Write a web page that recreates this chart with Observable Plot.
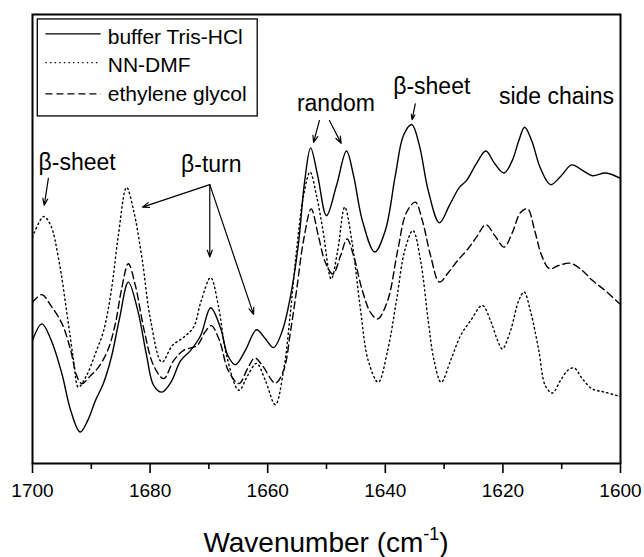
<!DOCTYPE html>
<html>
<head>
<meta charset="utf-8">
<script src="https://cdn.jsdelivr.net/npm/d3@7"></script>
<script src="https://cdn.jsdelivr.net/npm/@observablehq/plot@0.6"></script>
<style>
  html, body { margin: 0; padding: 0; background: #fff; }
  #chart { width: 644px; height: 557px; }
</style>
</head>
<body>
<div id="chart"></div>
<script>
// ---- data (wavenumber cm^-1, intensity in arbitrary units) ----
const seriesNames = ["buffer Tris-HCl", "NN-DMF", "ethylene glycol"];

const bufferTris = [
  [1700.0,27.4],[1698.4,31.1],[1696.8,27.4],[1695.0,20.0],[1693.5,11.8],[1691.9,7.0],
  [1690.6,9.6],[1689.3,14.0],[1687.9,18.0],[1686.6,23.6],[1685.2,32.3],[1683.7,40.4],
  [1682.1,34.1],[1680.6,24.1],[1679.4,17.4],[1678.0,15.9],[1676.5,18.0],[1674.8,22.9],
  [1673.1,25.2],[1671.4,28.5],[1669.7,34.7],[1668.0,30.1],[1666.8,24.1],[1665.5,22.0],
  [1663.8,25.2],[1661.9,29.8],[1660.4,27.8],[1659.0,25.8],[1657.5,29.6],[1656.1,37.4],
  [1654.8,48.6],[1653.7,63.0],[1652.7,70.3],[1651.5,64.1],[1650.0,55.2],[1648.3,61.9],
  [1646.6,69.6],[1645.4,64.1],[1643.9,54.1],[1641.8,47.1],[1640.0,51.9],[1638.3,64.1],
  [1636.9,73.1],[1635.5,75.5],[1634.2,70.8],[1632.7,60.8],[1630.8,53.6],[1629.1,57.5],
  [1627.4,61.5],[1626.2,63.0],[1624.5,66.8],[1622.9,69.6],[1621.4,66.8],[1619.8,64.7],
  [1618.4,67.5],[1617.3,71.9],[1616.3,74.9],[1615.1,71.9],[1613.6,65.7],[1611.9,62.1],
  [1610.2,63.9],[1608.3,66.5],[1606.5,65.3],[1604.8,64.1],[1602.5,64.7],[1600.0,63.5]
];

const nnDMF = [
  [1700.0,50.4],[1698.1,55.0],[1696.9,53.0],[1695.6,45.9],[1693.9,31.2],[1693.0,22.9],
  [1692.2,17.0],[1690.8,19.6],[1689.3,24.5],[1687.9,29.6],[1686.6,38.5],[1685.4,50.8],
  [1684.0,61.5],[1682.8,56.3],[1681.4,45.9],[1679.9,31.8],[1678.0,22.6],[1676.2,26.3],
  [1674.3,28.1],[1672.6,30.4],[1671.3,36.3],[1669.7,41.4],[1668.4,35.2],[1667.0,24.1],
  [1664.9,16.3],[1663.4,19.6],[1661.9,22.3],[1660.4,18.5],[1658.7,13.1],[1657.3,20.7],
  [1656.1,34.1],[1655.1,47.4],[1653.9,59.7],[1652.8,64.9],[1651.7,59.7],[1650.6,51.9],
  [1649.2,41.1],[1648.1,47.4],[1646.9,57.1],[1645.7,49.7],[1644.2,34.1],[1642.9,22.9],
  [1641.2,18.1],[1639.6,25.2],[1638.1,36.3],[1636.7,47.4],[1635.3,51.9],[1634.0,45.2],
  [1632.7,31.8],[1631.7,22.9],[1630.5,18.1],[1628.9,22.9],[1627.2,28.5],[1625.5,31.8],
  [1623.5,35.2],[1622.1,31.8],[1620.9,27.4],[1620.1,25.5],[1618.7,29.6],[1617.3,36.3],
  [1616.4,38.2],[1615.3,33.9],[1613.9,25.2],[1612.8,17.4],[1611.6,15.7],[1610.2,18.5],
  [1609.0,20.7],[1607.9,21.3],[1606.5,18.9],[1604.8,16.6],[1602.7,15.9],[1600.0,14.9]
];

const ethyleneGlycol = [
  [1700.0,35.9],[1698.4,37.6],[1696.9,35.2],[1695.0,31.2],[1693.5,25.2],[1692.5,19.6],
  [1691.6,17.8],[1690.1,19.6],[1688.8,21.4],[1687.2,25.2],[1685.9,31.2],[1684.9,38.5],
  [1683.7,44.5],[1682.5,39.6],[1681.0,29.6],[1679.4,21.8],[1677.7,18.9],[1676.0,22.9],
  [1674.3,25.2],[1672.0,26.3],[1670.7,29.2],[1669.6,30.7],[1668.2,27.4],[1666.7,20.7],
  [1664.9,17.8],[1663.4,21.2],[1662.2,23.5],[1660.9,21.8],[1658.7,17.9],[1657.3,20.7],
  [1656.1,29.6],[1655.1,38.5],[1653.9,49.7],[1652.6,56.7],[1651.4,50.8],[1650.2,44.8],
  [1648.9,42.2],[1647.6,46.3],[1646.5,50.0],[1645.4,46.3],[1643.9,38.5],[1642.5,33.6],
  [1641.3,32.2],[1639.6,36.3],[1637.9,47.4],[1636.4,55.9],[1634.9,58.2],[1633.7,54.1],
  [1632.3,46.3],[1630.8,40.4],[1629.3,42.5],[1627.7,45.2],[1626.2,47.4],[1624.5,50.4],
  [1622.9,53.2],[1621.4,50.8],[1619.8,48.2],[1618.4,51.4],[1617.0,55.9],[1615.8,56.7],
  [1614.6,51.9],[1613.4,46.3],[1612.1,43.4],[1610.5,44.1],[1608.5,44.6],[1606.5,43.0],
  [1604.8,40.8],[1602.6,38.5],[1600.0,35.4]
];

const majorTicks = [1700, 1680, 1660, 1640, 1620, 1600];
const minorTicks = [1690, 1670, 1650, 1630, 1610];

const annotationLabels = [
  {text: "β-sheet",     x: 1692.4, y: 65.3},
  {text: "β-turn",      x: 1669.6, y: 64.9},
  {text: "random",      x: 1648.4, y: 78.6},
  {text: "β-sheet",     x: 1632.1, y: 82.3},
  {text: "side chains", x: 1610.9, y: 80.1}
];

const annotationArrows = [
  {x1: 1697.3, y1: 63.5, x2: 1698.0, y2: 57.5},
  {x1: 1669.85, y1: 62.1, x2: 1681.3, y2: 57.1},
  {x1: 1669.85, y1: 62.1, x2: 1669.85, y2: 46.0},
  {x1: 1669.85, y1: 62.1, x2: 1662.4, y2: 33.2},
  {x1: 1651.2, y1: 76.4, x2: 1652.2, y2: 71.5},
  {x1: 1649.5, y1: 76.4, x2: 1647.5, y2: 71.3},
  {x1: 1634.9, y1: 80.1, x2: 1635.45, y2: 76.6}
];

// legend layout in data units
const legendBox = [{x1: 1699.1, x2: 1661.7, y1: 77.3, y2: 98.9}];
const legendRows = [
  {name: seriesNames[0], lineY: 95.7, textY: 93.5},
  {name: seriesNames[1], lineY: 89.3, textY: 87.1},
  {name: seriesNames[2], lineY: 82.3, textY: 80.8}
];

// ---- drawing ----
const FONT = "'Liberation Sans', Arial, Helvetica, sans-serif";
const seriesData = [bufferTris, nnDMF, ethyleneGlycol];
const dashes = [null, "1.4,3.2", "7,4"];

const lineMarks = seriesData.map((d, i) => Plot.line(d, {
  x: p => p[0], y: p => p[1],
  curve: "catmull-rom",
  stroke: "black",
  strokeWidth: 1.4,
  strokeDasharray: dashes[i] || undefined
}));

const legendLineMarks = legendRows.map((r, i) => Plot.link([r], {
  x1: 1697.8, x2: 1688.4, y1: d => d.lineY, y2: d => d.lineY,
  stroke: "black", strokeWidth: 1.3,
  strokeDasharray: dashes[i] || undefined
}));

const chart = Plot.plot({
  width: 644,
  height: 557,
  marginLeft: 32,
  marginRight: 24,
  marginTop: 14,
  marginBottom: 94,
  style: {fontFamily: FONT, fontSize: "19px", color: "black", background: "white"},
  x: {domain: [1700, 1600]},
  y: {domain: [0, 100], axis: null},
  marks: [
    ...lineMarks,
    Plot.axisX({ticks: majorTicks, tickSize: 10, tickPadding: 10, tickFormat: d => String(d),
      strokeWidth: 1.6, fontSize: 19, fill: "black"}),
    Plot.axisX({ticks: minorTicks, tickSize: 6, text: null, strokeWidth: 1.6}),
    Plot.arrow(annotationArrows, {x1: "x1", y1: "y1", x2: "x2", y2: "y2",
      stroke: "black", strokeWidth: 1.2, headLength: 9, headAngle: 40}),
    Plot.text(annotationLabels, {x: "x", y: "y", text: "text", fontSize: 23,
      lineAnchor: "bottom", textAnchor: "middle", fill: "black"}),
    Plot.rect(legendBox, {x1: "x1", x2: "x2", y1: "y1", y2: "y2",
      fill: "white", stroke: "black", strokeWidth: 1.3}),
    ...legendLineMarks,
    Plot.text(legendRows, {x: 1687.2, y: "textY", text: "name", fontSize: 21,
      textAnchor: "start", lineAnchor: "bottom", fill: "black"}),
    Plot.frame({stroke: "black", strokeWidth: 2})
  ]
});

// x-axis title with superscript
const svg = d3.select(chart);
const title = svg.append("text")
  .attr("x", 326).attr("y", 552)
  .attr("text-anchor", "middle")
  .attr("font-family", FONT)
  .attr("font-size", 28)
  .attr("fill", "black");
title.append("tspan").text("Wavenumber (cm");
title.append("tspan").attr("font-size", 18).attr("dy", -12).text("-1");
title.append("tspan").attr("dy", 12).text(")");

document.getElementById("chart").appendChild(chart);
</script>
</body>
</html>
